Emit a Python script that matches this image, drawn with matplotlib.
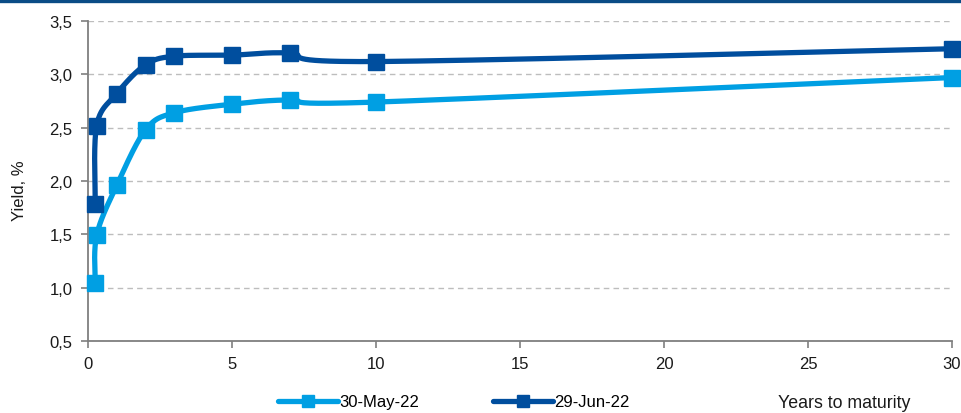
import numpy as np
import matplotlib
matplotlib.use("Agg")
import matplotlib.pyplot as plt
from matplotlib.lines import Line2D

plt.rcParams['font.family'] = ['Liberation Sans', 'DejaVu Sans']

# ---- data ----
maturity = [0.25, 0.3, 1, 2, 3, 5, 7, 10, 30]
may_label = "30-May-22"
jun_label = "29-Jun-22"
yield_may = [1.04, 1.49, 1.96, 2.48, 2.64, 2.72, 2.76, 2.74, 2.97]
yield_jun = [1.78, 2.52, 2.82, 3.09, 3.17, 3.18, 3.20, 3.12, 3.24]
x_ticks = [0, 5, 10, 15, 20, 25, 30]
y_ticks = [0.5, 1.0, 1.5, 2.0, 2.5, 3.0, 3.5]
x_title = "Years to maturity"
y_title = "Yield, %"

c_light = "#009FE3"
c_dark = "#004E9E"
grid_c = "#BDBDBD"
spine_c = "#7F7F7F"

W, H = 962, 414
fig = plt.figure(figsize=(W / 100, H / 100), dpi=100)
ax = fig.add_axes([88 / W, (H - 342) / H, (952 - 88) / W, 320 / H])
ax.set_xlim(0, 30)
ax.set_ylim(0.5, 3.5)

# top bar
fig.add_artist(Line2D([0, 1], [1 - 1.5 / H, 1 - 1.5 / H], transform=fig.transFigure,
                      color="#0B4C86", lw=2.4))


def smooth(xs, ys, n=40):
    """Excel-like smoothed line computed in display space."""
    pts = ax.transData.transform(np.column_stack([xs, ys]))
    out = []
    m = len(pts)
    for i in range(m - 1):
        p0 = pts[i - 1] if i > 0 else pts[i]
        p1 = pts[i]
        p2 = pts[i + 1]
        p3 = pts[i + 2] if i + 2 < m else pts[i + 1]
        c1 = p1 + (p2 - p0) / 6.0
        c2 = p2 - (p3 - p1) / 6.0
        t = np.linspace(0, 1, n)[:, None]
        seg = ((1 - t) ** 3) * p1 + 3 * ((1 - t) ** 2) * t * c1 + 3 * (1 - t) * t ** 2 * c2 + t ** 3 * p2
        out.append(seg if i == 0 else seg[1:])
    out = np.vstack(out)
    return ax.transData.inverted().transform(out)


for ys, col, z in [(yield_may, c_light, 3), (yield_jun, c_dark, 4)]:
    cur = smooth(maturity, ys)
    ax.plot(cur[:, 0], cur[:, 1], color=col, lw=3.8, solid_capstyle='round', zorder=z, clip_on=False)
    ax.plot(maturity, ys, ls='none', marker='s', ms=12, color=col, zorder=z + 0.5, clip_on=False)

# grid and axes styling
ax.set_yticks(y_ticks)
ax.set_xticks(x_ticks)
ax.set_yticklabels([f"{v:.1f}".replace('.', ',') for v in y_ticks])
ax.set_xticklabels([str(v) for v in x_ticks])
ax.grid(axis='y', color=grid_c, ls=(0, (4, 3)), lw=1.0)
ax.set_axisbelow(True)
for s in ['top', 'right']:
    ax.spines[s].set_visible(False)
for s in ['left', 'bottom']:
    ax.spines[s].set_color(spine_c)
    ax.spines[s].set_linewidth(1.3)
ax.tick_params(axis='both', direction='out', length=5, width=1.2, color=spine_c,
               labelsize=12, labelcolor='#1a1a1a', pad=6)

fig.text(20 / W, 1 - 191 / H, y_title, rotation=90, ha='center', va='center',
         fontsize=12, color='#1a1a1a')
fig.text(778 / W, 2 / H, x_title, ha='left', va='bottom', fontsize=12.8, color='#1a1a1a')

handles = [Line2D([], [], color=c_light, lw=3.8, marker='s', ms=8, solid_capstyle='round'),
           Line2D([], [], color=c_dark, lw=3.8, marker='s', ms=8, solid_capstyle='round')]
fig.legend(handles, [may_label, jun_label], loc='center left',
           bbox_to_anchor=(278 / W, 1 - 403 / H), ncol=2, frameon=False,
           fontsize=12, handlelength=3.6, handletextpad=0.1, columnspacing=4.4,
           borderpad=0, borderaxespad=0)

fig.savefig("out.png", dpi=100)
